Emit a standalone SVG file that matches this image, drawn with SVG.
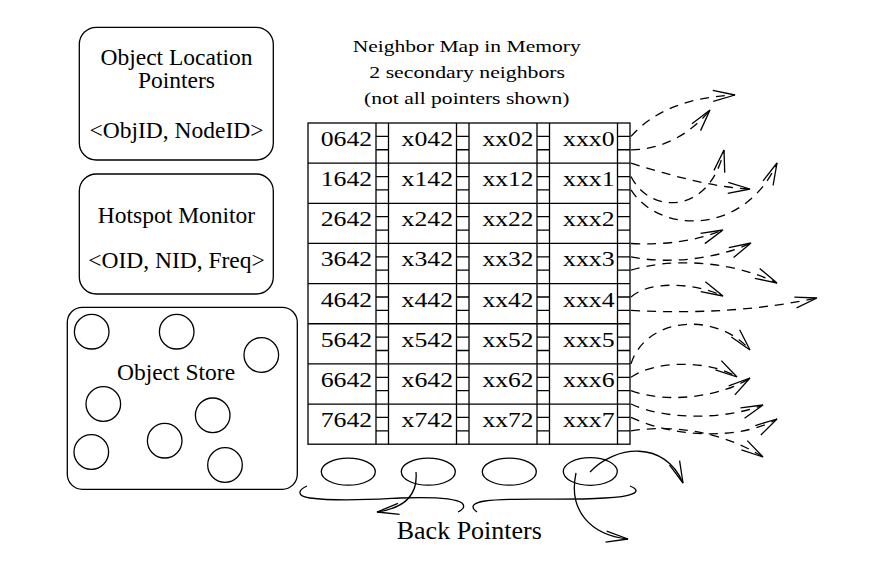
<svg xmlns="http://www.w3.org/2000/svg" xmlns:xlink="http://www.w3.org/1999/xlink" width="883" height="585" viewBox="0 0 883 585">
<style>
.t { font-family: "Liberation Serif", "Times New Roman", serif; fill: #000; }
.lbl { font-size: 23.5px; text-anchor: middle; }
.ttl { font-size: 17.7px; text-anchor: middle; }
.cell { font-size: 22px; }
.ln { fill: none; stroke: #000; stroke-width: 1.3; }
.dash { fill: none; stroke: #000; stroke-width: 1.3; stroke-dasharray: 9 7; marker-end: url(#ah); }
.arr { fill: none; stroke: #000; stroke-width: 1.3; marker-end: url(#ah); }
</style>
<defs>
<marker id="ah" markerUnits="userSpaceOnUse" markerWidth="26" markerHeight="12" refX="22" refY="6" orient="auto" overflow="visible">
<path d="M0,0.5 L22,6 L0,11.5" fill="none" stroke="#000" stroke-width="1.3" stroke-dasharray="none"/>
</marker>
<path id="ticks" class="ln" d="M0,136.38h12.5m-12.5,13.38h12.5m-12.5,26.77h12.5m-12.5,13.38h12.5m-12.5,26.77h12.5m-12.5,13.38h12.5m-12.5,26.77h12.5m-12.5,13.38h12.5m-12.5,26.77h12.5m-12.5,13.38h12.5m-12.5,26.77h12.5m-12.5,13.38h12.5m-12.5,26.77h12.5m-12.5,13.38h12.5m-12.5,26.77h12.5m-12.5,13.38h12.5"/>
</defs>
<rect width="883" height="585" fill="#fff"/>

<g id="object-location-pointers">
<rect class="ln" x="79.3" y="27.3" width="194" height="132.7" rx="17"/>
<text class="t lbl" x="176.5" y="65">Object Location</text>
<text class="t lbl" x="176.5" y="88.3">Pointers</text>
<text class="t lbl" x="176.5" y="138.3">&lt;ObjID, NodeID&gt;</text>
</g>

<g id="hotspot-monitor">
<rect class="ln" x="79.3" y="174" width="194" height="120" rx="17"/>
<text class="t lbl" x="176.5" y="223.3">Hotspot Monitor</text>
<text class="t lbl" x="176.5" y="268.3">&lt;OID, NID, Freq&gt;</text>
</g>

<g id="object-store">
<rect class="ln" x="67.3" y="307.3" width="230" height="182" rx="15"/>
<circle class="ln" cx="91.7" cy="331.7" r="17.3"/>
<circle class="ln" cx="176.7" cy="331.7" r="17.3"/>
<circle class="ln" cx="261.3" cy="355" r="17.3"/>
<circle class="ln" cx="103.3" cy="404" r="17.3"/>
<circle class="ln" cx="212.7" cy="415.3" r="17.3"/>
<circle class="ln" cx="164.7" cy="440.7" r="17.3"/>
<circle class="ln" cx="91.3" cy="452" r="17.3"/>
<circle class="ln" cx="225" cy="465" r="17.3"/>
<text class="t lbl" x="176" y="380">Object Store</text>
</g>

<g id="neighbor-map">
<text class="t ttl" x="466.7" y="51.7" textLength="228" lengthAdjust="spacingAndGlyphs">Neighbor Map in Memory</text>
<text class="t ttl" x="467.2" y="78.3" textLength="195.7" lengthAdjust="spacingAndGlyphs">2 secondary neighbors</text>
<text class="t ttl" x="466.7" y="103.6" textLength="205.3" lengthAdjust="spacingAndGlyphs">(not all pointers shown)</text>
<rect class="ln" x="308" y="123" width="322" height="321.2"/>
<path class="ln" d="M308,163.15H630M308,203.3H630M308,243.45H630M308,283.6H630M308,323.75H630M308,363.9H630M308,404.05H630M376,123V444.2M388.5,123V444.2M456.5,123V444.2M469,123V444.2M537,123V444.2M549.5,123V444.2M617.5,123V444.2"/>
<use xlink:href="#ticks" x="376"/>
<use xlink:href="#ticks" x="456.5"/>
<use xlink:href="#ticks" x="537"/>
<use xlink:href="#ticks" x="617.5"/>
<g class="t cell" lengthAdjust="spacingAndGlyphs">
<text x="320.7" y="146" textLength="51.5" lengthAdjust="spacingAndGlyphs">0642</text>
<text x="401.5" y="146" textLength="51.5" lengthAdjust="spacingAndGlyphs">x042</text>
<text x="482.5" y="146" textLength="51" lengthAdjust="spacingAndGlyphs">xx02</text>
<text x="563" y="146" textLength="51.5" lengthAdjust="spacingAndGlyphs">xxx0</text>
<text x="320.7" y="186.15" textLength="51.5" lengthAdjust="spacingAndGlyphs">1642</text>
<text x="401.5" y="186.15" textLength="51.5" lengthAdjust="spacingAndGlyphs">x142</text>
<text x="482.5" y="186.15" textLength="51" lengthAdjust="spacingAndGlyphs">xx12</text>
<text x="563" y="186.15" textLength="51.5" lengthAdjust="spacingAndGlyphs">xxx1</text>
<text x="320.7" y="226.3" textLength="51.5" lengthAdjust="spacingAndGlyphs">2642</text>
<text x="401.5" y="226.3" textLength="51.5" lengthAdjust="spacingAndGlyphs">x242</text>
<text x="482.5" y="226.3" textLength="51" lengthAdjust="spacingAndGlyphs">xx22</text>
<text x="563" y="226.3" textLength="51.5" lengthAdjust="spacingAndGlyphs">xxx2</text>
<text x="320.7" y="266.45" textLength="51.5" lengthAdjust="spacingAndGlyphs">3642</text>
<text x="401.5" y="266.45" textLength="51.5" lengthAdjust="spacingAndGlyphs">x342</text>
<text x="482.5" y="266.45" textLength="51" lengthAdjust="spacingAndGlyphs">xx32</text>
<text x="563" y="266.45" textLength="51.5" lengthAdjust="spacingAndGlyphs">xxx3</text>
<text x="320.7" y="306.6" textLength="51.5" lengthAdjust="spacingAndGlyphs">4642</text>
<text x="401.5" y="306.6" textLength="51.5" lengthAdjust="spacingAndGlyphs">x442</text>
<text x="482.5" y="306.6" textLength="51" lengthAdjust="spacingAndGlyphs">xx42</text>
<text x="563" y="306.6" textLength="51.5" lengthAdjust="spacingAndGlyphs">xxx4</text>
<text x="320.7" y="346.75" textLength="51.5" lengthAdjust="spacingAndGlyphs">5642</text>
<text x="401.5" y="346.75" textLength="51.5" lengthAdjust="spacingAndGlyphs">x542</text>
<text x="482.5" y="346.75" textLength="51" lengthAdjust="spacingAndGlyphs">xx52</text>
<text x="563" y="346.75" textLength="51.5" lengthAdjust="spacingAndGlyphs">xxx5</text>
<text x="320.7" y="386.9" textLength="51.5" lengthAdjust="spacingAndGlyphs">6642</text>
<text x="401.5" y="386.9" textLength="51.5" lengthAdjust="spacingAndGlyphs">x642</text>
<text x="482.5" y="386.9" textLength="51" lengthAdjust="spacingAndGlyphs">xx62</text>
<text x="563" y="386.9" textLength="51.5" lengthAdjust="spacingAndGlyphs">xxx6</text>
<text x="320.7" y="427.05" textLength="51.5" lengthAdjust="spacingAndGlyphs">7642</text>
<text x="401.5" y="427.05" textLength="51.5" lengthAdjust="spacingAndGlyphs">x742</text>
<text x="482.5" y="427.05" textLength="51" lengthAdjust="spacingAndGlyphs">xx72</text>
<text x="563" y="427.05" textLength="51.5" lengthAdjust="spacingAndGlyphs">xxx7</text>
</g>
</g>

<g id="back-pointers">
<ellipse class="ln" cx="348.3" cy="471.7" rx="27" ry="13.5"/>
<ellipse class="ln" cx="428.3" cy="471.7" rx="27" ry="13.5"/>
<ellipse class="ln" cx="509.3" cy="471.7" rx="27" ry="13.5"/>
<ellipse class="ln" cx="590.3" cy="471.5" rx="27" ry="13.8"/>
<text class="t" x="469.3" y="539" font-size="26" text-anchor="middle">Back Pointers</text>
</g>

<g id="connectors">
<path class="ln" d="M307,486 C298,490 296,496 310,498 C340,502 380,499 400,498 C430,497 455,498 462,503 C466,507 462,510 458,512"/>
<path class="ln" d="M477,512 C470,507 472,503 485,501 C515,497 560,501 605,498 C630,497 645,492 630,486"/>
<path class="arr" d="M416,472 C418,495 405,508 377,512"/>
<path class="arr" d="M576,473 C568,510 590,535 628,539"/>
<path class="arr" d="M590,472 C615,445 665,440 683,483"/>
<path class="dash" d="M631,136.4 Q665,98 735,95"/>
<path class="dash" d="M631,149.8 C660,150 690,135 710,110"/>
<path class="dash" d="M631,163.2 C670,175 710,187 750,189"/>
<path class="dash" d="M631,176.5 C650,215 710,215 724,150"/>
<path class="dash" d="M631,189.9 C660,235 745,235 777,163"/>
<path class="dash" d="M631,243.5 Q685,246 723,230"/>
<path class="dash" d="M631,256.8 C670,265 720,258 751,243"/>
<path class="dash" d="M631,270.2 C670,258 730,260 777,283"/>
<path class="dash" d="M631,297 C650,280 695,283 723,296"/>
<path class="dash" d="M631,310.4 C700,314 760,310 817,298"/>
<path class="dash" d="M631,363.9 C645,318 715,310 750,350"/>
<path class="dash" d="M631,377.3 C655,360 710,360 737,377"/>
<path class="dash" d="M631,390.7 C670,405 725,395 750,378"/>
<path class="dash" d="M631,404 C665,420 725,420 763,405"/>
<path class="dash" d="M631,417.4 C680,440 745,438 777,419"/>
<path class="dash" d="M631,430.8 C670,425 720,430 763,457"/>
</g>
</svg>
